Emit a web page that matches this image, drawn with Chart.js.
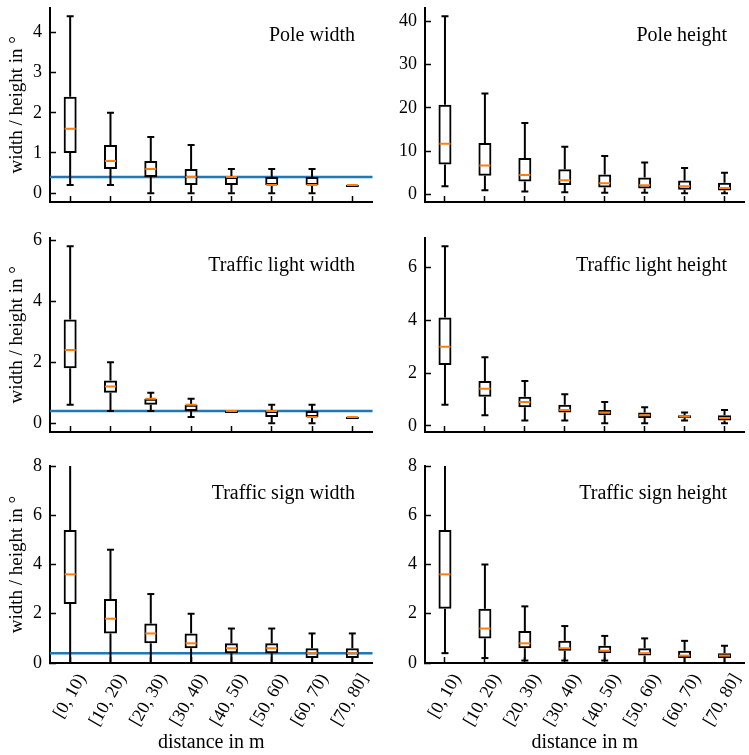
<!DOCTYPE html>
<html>
<head>
<meta charset="utf-8">
<script src="https://cdn.jsdelivr.net/npm/chart.js@4.4.1/dist/chart.umd.min.js"></script>
<style>
  html, body { margin: 0; padding: 0; background: #fff; overflow: hidden; }
  body { width: 749px; height: 755px; position: relative; }
  canvas { position: absolute; }
</style>
</head>
<body>
<canvas id="pole_width"></canvas>
<canvas id="pole_height"></canvas>
<canvas id="light_width"></canvas>
<canvas id="light_height"></canvas>
<canvas id="sign_width"></canvas>
<canvas id="sign_height"></canvas>
<script>
// distance bins, shared by every panel
const categories = ['[0, 10)', '[10, 20)', '[20, 30)', '[30, 40)', '[40, 50)', '[50, 60)', '[60, 70)', '[70, 80]'];

// one box per bin: [lower whisker, q1, median, q3, upper whisker]
const poleWidth = [[0.2, 1.0, 1.6, 2.4, 4.4], [0.2, 0.6, 0.8, 1.2, 2.0], [0, 0.4, 0.6, 0.8, 1.4], [0, 0.2, 0.4, 0.6, 1.2],
  [0, 0.2, 0.4, 0.4, 0.6], [0, 0.2, 0.2, 0.4, 0.6], [0, 0.2, 0.2, 0.4, 0.6], [0.2, 0.2, 0.2, 0.2, 0.2]];
const poleHeight = [[1.9, 6.9, 11.7, 20.7, 41.1], [1.0, 4.3, 6.7, 11.9, 23.3], [0.7, 3.0, 4.5, 8.4, 16.5], [0.5, 2.2, 3.3, 5.8, 11.0],
  [0.4, 1.6, 2.6, 4.6, 8.9], [0.4, 1.4, 2.1, 3.9, 7.4], [0.3, 1.1, 1.9, 3.2, 6.1], [0.3, 0.9, 1.5, 2.7, 5.0]];
const lightWidth = [[0.6, 1.8, 2.4, 3.4, 5.8], [0.4, 1.0, 1.2, 1.4, 2.0], [0.4, 0.6, 0.8, 0.8, 1.0], [0.2, 0.4, 0.6, 0.6, 0.8],
  [0.4, 0.4, 0.4, 0.4, 0.4], [0, 0.2, 0.4, 0.4, 0.6], [0, 0.2, 0.2, 0.4, 0.6], [0.2, 0.2, 0.2, 0.2, 0.2]];
const lightHeight = [[0.8, 2.3, 3.0, 4.1, 6.8], [0.4, 1.1, 1.4, 1.7, 2.6], [0.2, 0.7, 0.9, 1.1, 1.7], [0.2, 0.5, 0.6, 0.8, 1.2],
  [0.1, 0.4, 0.5, 0.6, 0.9], [0.1, 0.3, 0.4, 0.5, 0.7], [0.2, 0.3, 0.35, 0.4, 0.5], [0.1, 0.2, 0.3, 0.4, 0.6]];
const signWidth = [[0, 2.4, 3.6, 5.4, 9.5], [0, 1.2, 1.8, 2.6, 4.6], [0, 0.8, 1.2, 1.6, 2.8], [0, 0.6, 0.8, 1.2, 2.0],
  [0, 0.4, 0.6, 0.8, 1.4], [0, 0.4, 0.6, 0.8, 1.4], [0, 0.2, 0.4, 0.6, 1.2], [0, 0.2, 0.4, 0.6, 1.2]];
const signHeight = [[0.4, 2.2, 3.6, 5.4, 9.8], [0.2, 1.0, 1.4, 2.2, 4.0], [0.1, 0.6, 0.8, 1.3, 2.3], [0.1, 0.5, 0.6, 0.9, 1.5],
  [0.1, 0.4, 0.5, 0.7, 1.1], [0, 0.3, 0.4, 0.6, 1.0], [0, 0.2, 0.3, 0.5, 0.9], [0, 0.2, 0.3, 0.4, 0.7]];

// threshold drawn on the width panels
const widthLimit = 0.4;

// y tick labels per panel
const poleWidthTicks = [0, 1, 2, 3, 4];
const poleHeightTicks = [0, 10, 20, 30, 40];
const lightTicks = [0, 2, 4, 6];
const signTicks = [0, 2, 4, 6, 8];

const SERIF = '"Liberation Serif", "Times New Roman", serif';

// horizontal threshold line, under the boxes
const refLinePlugin = {
  id: 'refLine',
  beforeDatasetsDraw(chart, args, opts) {
    if (opts.value == null) return;
    const { ctx, chartArea, scales } = chart;
    const py = scales.y.getPixelForValue(opts.value);
    ctx.save();
    ctx.strokeStyle = '#1f77b4';
    ctx.lineWidth = 2.5;
    ctx.beginPath();
    ctx.moveTo(chartArea.left, py);
    ctx.lineTo(chartArea.right, py);
    ctx.stroke();
    ctx.restore();
  }
};

// panel name in the upper right corner of the axes
const panelLabelPlugin = {
  id: 'panelLabel',
  afterDraw(chart, args, opts) {
    const { ctx, chartArea } = chart;
    ctx.save();
    ctx.font = '20px ' + SERIF;
    ctx.fillStyle = '#000';
    ctx.textAlign = 'right';
    ctx.textBaseline = 'alphabetic';
    ctx.fillText(opts.text, chartArea.right - 17.5, chartArea.top + 33);
    ctx.restore();
  }
};

const clipTop = { left: false, right: false, top: 0, bottom: false };

const boxDatasets = boxes => {
  const col = i => boxes.map(b => b[i]);
  const whisker = data => ({
    type: 'bar', data, backgroundColor: '#000', borderWidth: 0, barThickness: 2,
    grouped: false, inflateAmount: 0, order: 4, clip: clipTop
  });
  const cap = data => ({
    type: 'line', data, showLine: false, pointStyle: 'line', pointRadius: 3.5,
    pointBorderWidth: 2, pointBorderColor: '#000', order: 2, clip: clipTop
  });
  return [
    whisker(boxes.map(b => [b[0], b[1]])),
    whisker(boxes.map(b => [b[3], b[4]])),
    {
      type: 'bar', data: boxes.map(b => [b[1], b[3]]), backgroundColor: 'rgba(0,0,0,0)',
      borderColor: '#000', borderWidth: 2, borderSkipped: false, barThickness: 13,
      minBarLength: 2, grouped: false, inflateAmount: 0, order: 3, clip: clipTop
    },
    cap(col(0)),
    cap(col(4)),
    {
      type: 'line', data: col(2), showLine: false, pointStyle: 'line', pointRadius: 5.5,
      pointBorderWidth: 2, pointBorderColor: '#ff7f0e', order: 1, clip: clipTop
    }
  ];
};

const rows = [
  { top: 0, height: 210, padTop: 5, xHeight: 8 },
  { top: 230, height: 210, padTop: 5, xHeight: 8 },
  { top: 450, height: 305, padTop: 16, xHeight: 92 }
];
const cols = [
  { left: 0, width: 380, padRight: 3 },
  { left: 375, width: 377, padRight: 1 }
];

const panels = [
  { id: 'pole_width', title: 'Pole width', boxes: poleWidth, ticks: poleWidthTicks, min: -0.22, max: 4.62, ref: widthLimit, row: 0, col: 0 },
  { id: 'pole_height', title: 'Pole height', boxes: poleHeight, ticks: poleHeightTicks, min: -1.74, max: 43.14, ref: null, row: 0, col: 1 },
  { id: 'light_width', title: 'Traffic light width', boxes: lightWidth, ticks: lightTicks, min: -0.29, max: 6.09, ref: widthLimit, row: 1, col: 0 },
  { id: 'light_height', title: 'Traffic light height', boxes: lightHeight, ticks: lightTicks, min: -0.235, max: 7.135, ref: null, row: 1, col: 1 },
  { id: 'sign_width', title: 'Traffic sign width', boxes: signWidth, ticks: signTicks, min: 0, max: 8, ref: widthLimit, row: 2, col: 0 },
  { id: 'sign_height', title: 'Traffic sign height', boxes: signHeight, ticks: signTicks, min: 0, max: 8, ref: null, row: 2, col: 1 }
];

panels.forEach(p => {
  const r = rows[p.row], c = cols[p.col];
  const bottomRow = p.row === 2, leftCol = p.col === 0;
  const canvas = document.getElementById(p.id);
  canvas.width = c.width;
  canvas.height = r.height;
  canvas.style.left = c.left + 'px';
  canvas.style.top = r.top + 'px';

  new Chart(canvas.getContext('2d'), {
    type: 'bar',
    data: { labels: categories, datasets: boxDatasets(p.boxes) },
    options: {
      responsive: false,
      animation: false,
      events: [],
      devicePixelRatio: 1,
      layout: { padding: { top: r.padTop, right: c.padRight, bottom: 0, left: 0 } },
      plugins: {
        legend: { display: false },
        tooltip: { enabled: false },
        refLine: { value: p.ref },
        panelLabel: { text: p.title }
      },
      scales: {
        x: {
          type: 'category',
          offset: true,
          grid: { display: true, offset: false, drawOnChartArea: false, drawTicks: true, tickLength: -6, tickColor: '#000', tickWidth: 1.5 },
          border: { display: true, color: '#000', width: 2 },
          ticks: {
            display: bottomRow, autoSkip: false, minRotation: 60, maxRotation: 60,
            labelOffset: 12, padding: 13, color: '#000', font: { family: SERIF, size: 18 }
          },
          title: {
            display: bottomRow, text: 'distance in m', color: '#000',
            font: { family: SERIF, size: 20, lineHeight: 1.2 }, padding: { top: 0, bottom: 0 }
          },
          afterFit: s => { s.height = r.xHeight; s.paddingLeft = 0; s.paddingRight = 0; }
        },
        y: {
          type: 'linear',
          min: p.min,
          max: p.max,
          grid: { display: true, drawOnChartArea: false, drawTicks: true, tickLength: -6, tickColor: '#000', tickWidth: 1.5 },
          border: { display: true, color: '#000', width: 2 },
          ticks: { padding: 14, color: '#000', font: { family: SERIF, size: 18 } },
          afterBuildTicks: s => { s.ticks = p.ticks.map(v => ({ value: v })); },
          title: {
            display: leftCol, text: 'width / height in °', color: '#000',
            font: { family: SERIF, size: 19, lineHeight: 1.2 }, padding: { top: 6, bottom: 0 }
          },
          afterFit: s => { s.width = 50; s.paddingTop = 0; s.paddingBottom = 0; }
        }
      }
    },
    plugins: [refLinePlugin, panelLabelPlugin]
  });
});
</script>
</body>
</html>
